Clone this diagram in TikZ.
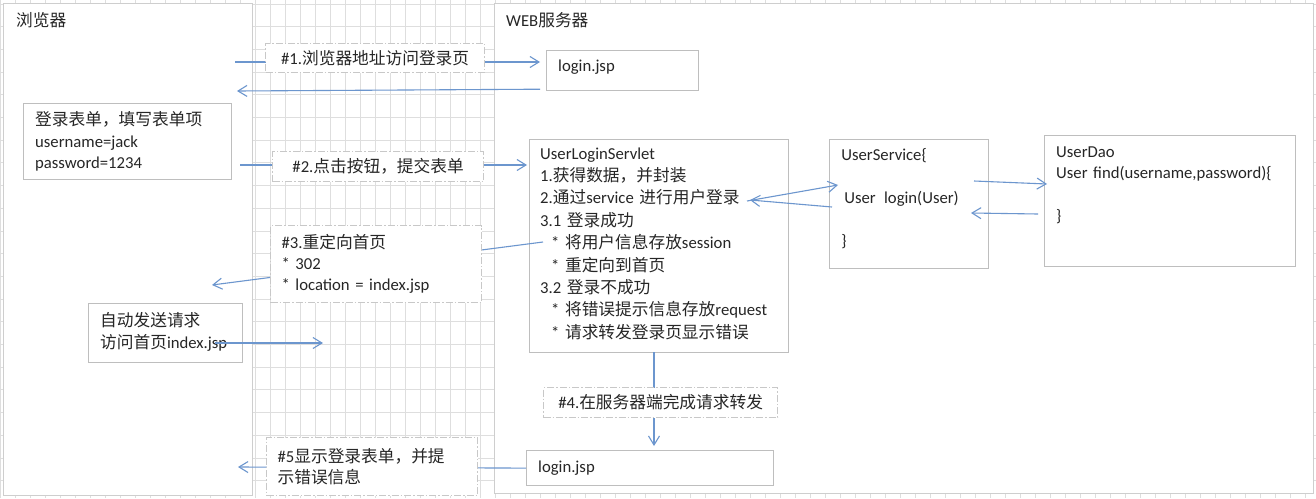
\documentclass[tikz,border=0pt]{standalone}
\usepackage{fontspec}
\setmainfont{Carlito}
\newfontfamily\zh{Noto Sans CJK SC}
\usetikzlibrary{positioning,arrows.meta}
\definecolor{linkblue}{RGB}{108,150,206}
\definecolor{frame}{RGB}{190,190,190}
\definecolor{cell}{RGB}{222,222,222}
\tikzset{
	>={Straight Barb[length=9pt,width=11pt]},
}

\begin{document}
\begin{tikzpicture}[x=1pt,y=-1pt,
		font=\fontsize{16.7}{21.8}\selectfont,
		panel/.style={rectangle, draw=frame!75, fill=white, line width=1.2pt, anchor=north west, inner sep=0pt},
		box/.style={rectangle, draw=frame, fill=white, line width=1.2pt, anchor=north west, inner sep=0pt},
		note/.style={box, draw=frame!85, dash pattern=on 7pt off 2pt on 1.5pt off 2pt, text=black!85},
		txt/.style={anchor=base west, inner sep=0pt, align=left, text width=300pt, text=black!85},
		link/.style={draw=linkblue, line width=1.1pt},
	]
		\useasboundingbox (0,0) rectangle (1316,498);
		\fill[white] (0,0) rectangle (1316,498);
		\foreach \x in {0,15,...,1316} \draw[cell, line width=1pt] (\x,0) -- (\x,498);
		\foreach \y in {4,26.7,...,498} \draw[cell, line width=1pt] (0,\y) -- (1316,\y);

		\node(browser)[panel, minimum width=249pt, minimum height=492pt] at (3,3) {};
		\node(web)[panel, minimum width=819pt, minimum height=490pt] at (494,3) {};
		\node(browsertxt)[txt] at ([shift={(13,23)}]browser.north west) {\zh 浏览器};
		\node(webtxt)[txt] at ([shift={(12,23)}]web.north west) {WEB{\zh 服务器}};

		\node(login1)[box, minimum width=152pt, minimum height=40pt] at (546,50) {};
		\node(login1txt)[txt] at ([shift={(12,21)}]login1.north west) {login.jsp};
		\node(form)[box, minimum width=208pt, minimum height=76pt] at (23,103) {};
		\node(formtxt)[txt, font=\fontsize{16.7}{21.5}\selectfont] at ([shift={(12,22.5)}]form.north west)
			{{\zh 登录表单，填写表单项}\\username=jack\\password=1234};
		\node(servlet)[box, minimum width=259pt, minimum height=213pt] at (529,139) {};
		\node(servlettxt)[txt, font=\fontsize{16.7}{22.4}\selectfont] at ([shift={(11,20)}]servlet.north west)
			{UserLoginServlet\\
			1.{\zh 获得数据，并封装}\\
			2.{\zh 通过}service {\zh 进行用户登录}\\
			3.1 {\zh 登录成功}\\
			\hspace*{11pt}* {\zh 将用户信息存放}session\\
			\hspace*{11pt}* {\zh 重定向到首页}\\
			3.2 {\zh 登录不成功}\\
			\hspace*{11pt}* {\zh 将错误提示信息存放}request\\
			\hspace*{11pt}* {\zh 请求转发登录页显示错误}};
		\node(service)[box, right=40pt of servlet.north east, anchor=north west, minimum width=159pt, minimum height=129pt] {};
		\node(servicetxt)[txt, font=\fontsize{16.7}{21.5}\selectfont] at ([shift={(12,21)}]service.north west)
			{UserService\{\\[21.5pt]\hspace*{3pt}User\enspace login(User)\\[21.5pt]\}};
		\node(dao)[box, minimum width=251pt, minimum height=131pt] at (1044,135) {};
		\node(daotxt)[txt, font=\fontsize{16.7}{21.5}\selectfont] at ([shift={(12,22)}]dao.north west)
			{UserDao\\User find(username,password)\{\\[21.5pt]\}};
		\node(auto)[box, minimum width=154pt, minimum height=59pt] at (88,303) {};
		\node(autotxt)[txt, font=\fontsize{16.7}{22}\selectfont] at ([shift={(12,23)}]auto.north west)
			{{\zh 自动发送请求}\\{\zh 访问首页}index.jsp};
		\node(login2)[box, minimum width=247pt, minimum height=35pt] at (526,450) {};
		\node(login2txt)[txt] at ([shift={(12,22)}]login2.north west) {login.jsp};

		\coordinate(req1) at (235,62);
		\coordinate(back1) at (237,91);
		\coordinate(req2) at (240,165);
		\coordinate(s1) at (747,201);
		\coordinate(s2) at (838,185);
		\coordinate(s3) at (832,207);
		\coordinate(s4) at (750,200);
		\coordinate(d1) at (974,181);
		\coordinate(d2) at (1047,184);
		\coordinate(d3) at (1038,214);
		\coordinate(d4) at (971,213);
		\coordinate(ok) at (543,242);
		\coordinate(redir) at (212,285);
		\coordinate(auto1) at (215,343);
		\coordinate(auto2) at (323,343);
		\coordinate(fwd) at (654,352);
		\coordinate(back2) at (238,467);

		\draw[link,->,shorten >=6pt] (req1) -- (req1 -| login1.west);
		\draw[link,->] ([shift={(-6,-2)}]login1.south west) -- (back1);
		\draw[link,->,shorten >=2pt] (req2) -- (req2 -| servlet.west);
		\draw[link,->] (s1) -- (s2);
		\draw[link,->] (s3) -- (s4);
		\draw[link,->] (d1) -- (d2);
		\draw[link,->] (d3) -- (d4);
		\draw[link,->] (ok) -- (redir);
		\draw[link,->] (auto1) -- (auto2);
		\draw[link,->,shorten >=4pt] (fwd) -- (fwd |- login2.north);
		\draw[link,->] (login2.west) -- (back2);

		\node(note1)[note, minimum width=219pt, minimum height=29pt] at (265,43) {\#1.{\zh 浏览器地址访问登录页}};
		\node(note2)[note, minimum width=211pt, minimum height=30pt] at (272,151) {\#2.{\zh 点击按钮，提交表单}};
		\node(note3)[note, minimum width=211pt, minimum height=77pt, align=left, text width=189pt, font=\fontsize{16.7}{21}\selectfont] at (270,225)
			{\#3.{\zh 重定向首页}\\{*} 302\\{*} location = index.jsp};
		\node(note4)[note, minimum width=234pt, minimum height=30pt] at (543,387) {\#4.{\zh 在服务器端完成请求转发}};
		\node(note5)[note, minimum width=211pt, minimum height=58pt, align=left, text width=189pt, font=\fontsize{16.7}{21}\selectfont] at (266,437)
			{\#5{\zh 显示登录表单，并提}\\{\zh 示错误信息}};
	\end{tikzpicture}
\end{document}
